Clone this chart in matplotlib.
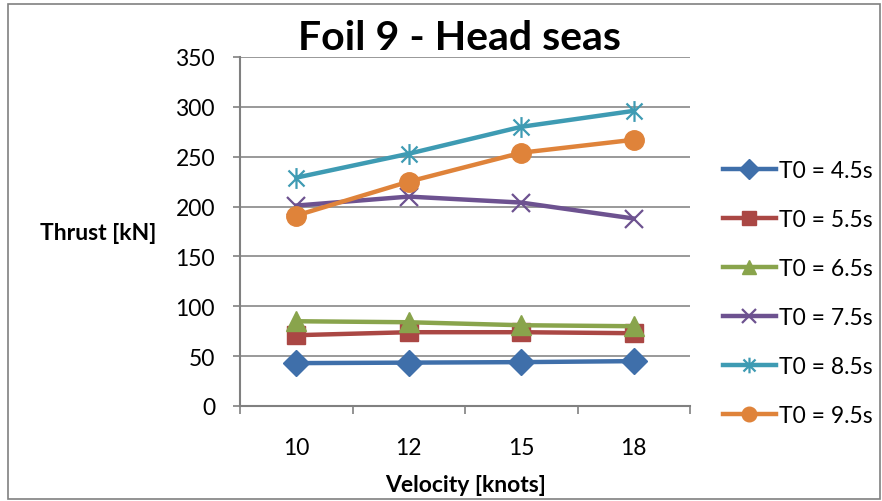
import matplotlib.pyplot as plt
from matplotlib.path import Path
from matplotlib.patches import Rectangle

velocities = ["10", "12", "15", "18"]
t45 = [43, 43.5, 44, 45]
t55 = [71, 74, 74, 73]
t65 = [85, 84, 81, 80]
t75 = [201, 210, 204, 188]
t85 = [229, 253, 280, 296]
t95 = [191, 225, 254, 267]
labels = ["T0 = 4.5s", "T0 = 5.5s", "T0 = 6.5s", "T0 = 7.5s", "T0 = 8.5s", "T0 = 9.5s"]

# excel style asterisk: X with a vertical stroke
star = Path(
    [(-1, -1), (1, 1), (-1, 1), (1, -1), (0, -1.3), (0, 1.3)],
    [Path.MOVETO, Path.LINETO, Path.MOVETO, Path.LINETO, Path.MOVETO, Path.LINETO],
)

styles = [
    dict(color="#3F6FAA", marker="D", ms=13),
    dict(color="#AA4744", marker="s", ms=12.5),
    dict(color="#89A44C", marker="^", ms=14),
    dict(color="#6D5290", marker="x", ms=12.5, mew=1.6),
    dict(color="#3E9BB3", marker=star, ms=15, mew=1.6),
    dict(color="#DF833A", marker="o", ms=14),
]

plt.rcParams["font.family"] = ["Lato", "DejaVu Sans"]

fig = plt.figure(figsize=[8.82, 5.02], dpi=100)
fig.patches.append(
    Rectangle((8 / 882, 2 / 502), 872 / 882, 495 / 502, transform=fig.transFigure,
              fill=False, edgecolor="#808080", lw=1.2)
)
ax = fig.add_axes([240 / 882, 1 - 407 / 502, 450 / 882, 349 / 502])

x = range(len(velocities))
for ys, lab, st in zip([t45, t55, t65, t75, t85, t95], labels, styles):
    ax.plot(x, ys, lw=3.2, label=lab, **st)

ax.set_xlim(-0.5, 3.5)
ax.set_ylim(0, 350)
ax.set_yticks(range(0, 351, 50))
ax.set_xticks(list(x))
ax.set_xticklabels(velocities)
ax.set_xticks([-0.5, 0.5, 1.5, 2.5, 3.5], minor=True)
ax.tick_params(axis="x", which="major", length=0, pad=22, labelsize=16.5)
ax.tick_params(axis="x", which="minor", length=6, color="#808080", width=1.2)
ax.tick_params(axis="y", length=5, color="#808080", width=1.2, pad=13, labelsize=16.5)

ax.grid(axis="y", color="#888888", lw=1.2)
ax.set_axisbelow(True)
for side in ["top", "right"]:
    ax.spines[side].set_visible(False)
for side in ["left", "bottom"]:
    ax.spines[side].set_color("#808080")
    ax.spines[side].set_linewidth(1.5)

fig.text(460 / 882, 1 - 38 / 502, "Foil 9 - Head seas", ha="center", va="center",
         fontsize=29.5, fontweight="bold")
fig.text(98 / 882, 1 - 233 / 502, "Thrust [kN]", ha="center", va="center",
         fontsize=16.5, fontweight="bold")
fig.text(466 / 882, 1 - 486 / 502, "Velocity [knots]", ha="center", va="center",
         fontsize=16.5, fontweight="bold")

fig.legend(loc="upper left", bbox_to_anchor=(723 / 882, 1 - 161 / 502), frameon=False,
           fontsize=16.5, labelspacing=1.22, handlelength=2.3, handletextpad=0.15,
           borderpad=0, borderaxespad=0, markerscale=0.75)

fig.savefig("out.png", dpi=100)
